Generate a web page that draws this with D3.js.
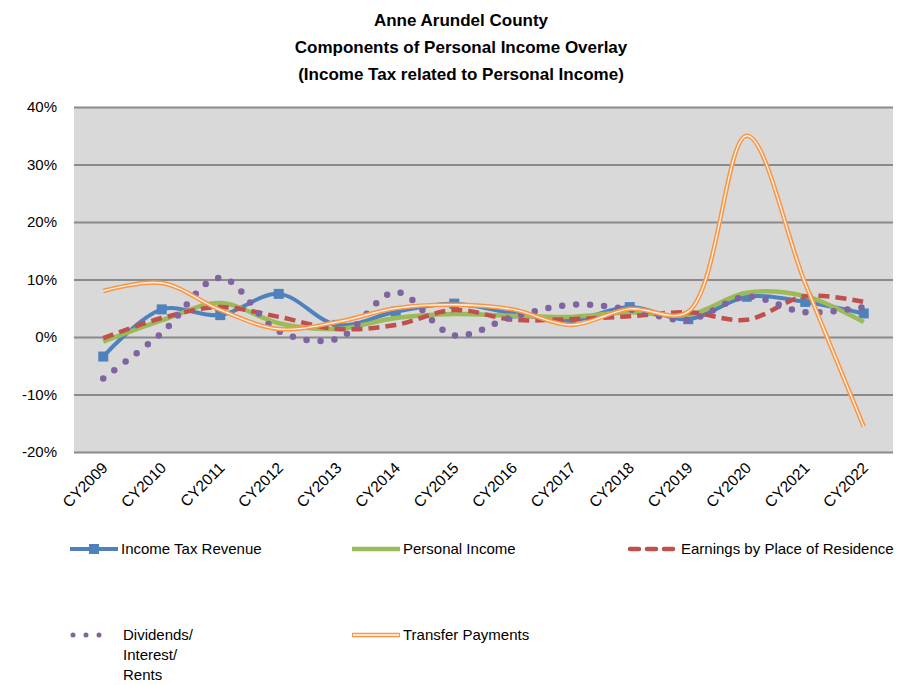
<!DOCTYPE html>
<html>
<head>
<meta charset="utf-8">
<script src="https://cdn.jsdelivr.net/npm/d3@7"></script>
<style>
  body { margin: 0; background: #fff; }
  svg { font-family: "Liberation Sans", Arial, sans-serif; }
  .title { font-weight: bold; font-size: 17px; fill: #000; }
  .yaxis text { font-size: 15px; fill: #000; }
  .xaxis text { font-size: 15.5px; fill: #000; }
  .legend text { font-size: 15px; fill: #000; }
</style>
</head>
<body>
<div id="chart"></div>
<script>
var years = ["CY2009","CY2010","CY2011","CY2012","CY2013","CY2014","CY2015","CY2016","CY2017","CY2018","CY2019","CY2020","CY2021","CY2022"],
    incomeTax      = [-3.4, 4.8, 3.8, 7.5, 2.1, 4.4, 5.8, 4.1, 2.9, 5.2, 3.1, 7.0, 6.1, 4.1],
    personalIncome = [-0.8, 2.9, 5.9, 2.4, 1.4, 3.3, 4.0, 3.7, 3.5, 4.3, 3.8, 7.7, 7.1, 2.6],
    earnings       = [-0.2, 3.3, 5.2, 3.5, 1.4, 2.1, 4.7, 3.0, 3.1, 3.6, 4.3, 3.0, 7.1, 6.1],
    dividends      = [-7.2, 0.7, 10.3, 1.0, -0.3, 7.8, 0.3, 3.5, 5.6, 4.8, 3.0, 7.0, 4.3, 5.2],
    transfers      = [8.0, 9.4, 4.7, 1.4, 2.6, 5.0, 5.6, 4.8, 2.1, 4.9, 4.4, 35.0, 9.3, -15.6],
    yTicks = [-20, -10, 0, 10, 20, 30, 40],
    titleLines = ["Anne Arundel County", "Components of Personal Income Overlay", "(Income Tax related to Personal Income)"];

var W = 909, H = 685,
    plot = { left: 74, right: 893, top: 107, bottom: 452 };

var svg = d3.select("#chart").append("svg")
    .attr("width", W)
    .attr("height", H);

// title
svg.selectAll(".title")
    .data(titleLines)
    .enter().append("text")
      .attr("class", "title")
      .attr("x", 461)
      .attr("y", function(d, i) { return 26 + i * 27; })
      .attr("text-anchor", "middle")
      .text(function(d) { return d; });

var x = d3.scalePoint().domain(years).range([plot.left, plot.right]).padding(0.5);
var y = d3.scaleLinear().domain([-20, 40]).range([plot.bottom, plot.top]);

svg.append("rect")
    .attr("x", plot.left)
    .attr("y", plot.top)
    .attr("width", plot.right - plot.left)
    .attr("height", plot.bottom - plot.top)
    .attr("fill", "#d9d9d9");

// gridlines + y labels
var yAxis = svg.append("g")
    .attr("class", "yaxis")
    .attr("transform", "translate(" + plot.left + ",0)")
    .call(d3.axisLeft(y).tickValues(yTicks).tickSize(-(plot.right - plot.left)).tickPadding(17)
      .tickFormat(function(d) { return d + "%"; }));
yAxis.select(".domain").remove();
yAxis.selectAll("line").attr("stroke", "#8a8a8a").attr("stroke-width", 1.8);

// x labels
var xAxis = svg.append("g")
    .attr("class", "xaxis")
    .attr("transform", "translate(0," + plot.bottom + ")")
    .call(d3.axisBottom(x).tickSize(0).tickPadding(0));
xAxis.select(".domain").remove();
xAxis.selectAll("text")
    .attr("text-anchor", "end")
    .attr("dy", "0.35em")
    .attr("transform", "translate(1,13) rotate(-45)");

function line(values) {
  return d3.line()
    .x(function(d, i) { return x(years[i]); })
    .y(function(d) { return y(d); })
    .curve(d3.curveCatmullRom.alpha(0.5))(values);
}

var series = svg.append("g");

// Income Tax Revenue
series.append("path")
    .attr("d", line(incomeTax))
    .attr("fill", "none").attr("stroke", "#4f81bd").attr("stroke-width", 4);
series.selectAll(".sq")
    .data(incomeTax)
    .enter().append("rect")
      .attr("class", "sq")
      .attr("x", function(d, i) { return x(years[i]) - 5; })
      .attr("y", function(d) { return y(d) - 5; })
      .attr("width", 10).attr("height", 10)
      .attr("fill", "#4f81bd");

// Personal Income
series.append("path")
    .attr("d", line(personalIncome))
    .attr("fill", "none").attr("stroke", "#9bbb59").attr("stroke-width", 4.5);

// Earnings by Place of Residence
series.append("path")
    .attr("d", line(earnings))
    .attr("fill", "none").attr("stroke", "#c0504d").attr("stroke-width", 4.5)
    .attr("stroke-dasharray", "11,6");

// Dividends/Interest/Rents
series.append("path")
    .attr("d", line(dividends))
    .attr("fill", "none").attr("stroke", "#8064a2").attr("stroke-width", 6.5)
    .attr("stroke-linecap", "round")
    .attr("stroke-dasharray", "0,14");

// Transfer Payments (double line)
series.append("path")
    .attr("d", line(transfers))
    .attr("fill", "none").attr("stroke", "#f79646").attr("stroke-width", 4.5);
series.append("path")
    .attr("d", line(transfers))
    .attr("fill", "none").attr("stroke", "#fbeee4").attr("stroke-width", 1.4);

// legend
var legend = svg.append("g").attr("class", "legend");
var legendItems = [
  { x: 70, y: 549, name: ["Income Tax Revenue"], key: "tax" },
  { x: 352, y: 549, name: ["Personal Income"], key: "pi" },
  { x: 628, y: 549, name: ["Earnings by Place of Residence"], key: "earn" },
  { x: 70, y: 635, name: ["Dividends/", "Interest/", "Rents"], key: "div" },
  { x: 352, y: 635, name: ["Transfer Payments"], key: "tr" }
];

legendItems.forEach(function(it) {
  var g = legend.append("g").attr("transform", "translate(" + it.x + "," + it.y + ")");
  var tx = 51;
  if (it.key == "tax") {
    g.append("line").attr("x1", 0).attr("x2", 48).attr("stroke", "#4f81bd").attr("stroke-width", 4);
    g.append("rect").attr("x", 19).attr("y", -5).attr("width", 10).attr("height", 10).attr("fill", "#4f81bd");
  } else if (it.key == "pi") {
    g.append("line").attr("x1", 0).attr("x2", 48).attr("stroke", "#9bbb59").attr("stroke-width", 4.5);
  } else if (it.key == "earn") {
    g.append("line").attr("x1", 2).attr("x2", 46).attr("stroke", "#c0504d").attr("stroke-width", 4.5)
      .attr("stroke-linecap", "round").attr("stroke-dasharray", "9,8");
    tx = 53;
  } else if (it.key == "div") {
    g.append("line").attr("x1", 3).attr("x2", 42).attr("stroke", "#8064a2").attr("stroke-width", 5)
      .attr("stroke-linecap", "round").attr("stroke-dasharray", "0,13");
    tx = 53;
  } else if (it.key == "tr") {
    g.append("line").attr("x1", 0).attr("x2", 48).attr("stroke", "#f79646").attr("stroke-width", 4.5);
    g.append("line").attr("x1", 1).attr("x2", 47).attr("stroke", "#ffffff").attr("stroke-width", 1.4);
  }
  g.selectAll("text")
    .data(it.name)
    .enter().append("text")
      .attr("x", tx)
      .attr("y", function(d, i) { return i * 20; })
      .attr("dy", "0.35em")
      .text(function(d) { return d; });
});
</script>
</body>
</html>
